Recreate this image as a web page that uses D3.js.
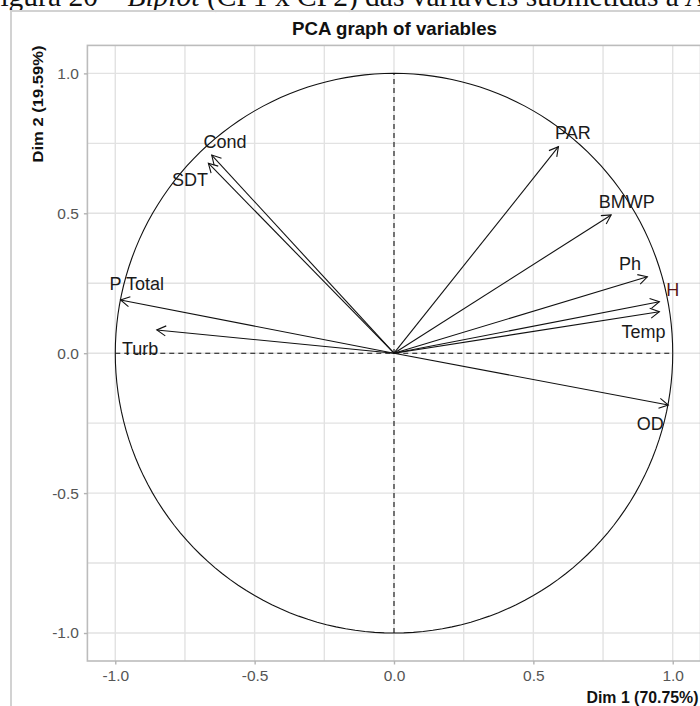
<!DOCTYPE html>
<html>
<head>
<meta charset="utf-8">
<script src="https://cdn.jsdelivr.net/npm/d3@7"></script>
<style>
  body { margin: 0; background: #fff; }
  svg { display: block; }
</style>
</head>
<body>
<svg id="mainsvg" width="700" height="706"></svg>
<script>
// data
const variables = ['PAR', 'BMWP', 'Ph', 'H', 'Temp', 'OD', 'Cond', 'SDT', 'P Total', 'Turb'];
const dim1 = [0.590, 0.779, 0.909, 0.952, 0.952, 0.984, -0.654, -0.666, -0.981, -0.851];
const dim2 = [0.738, 0.494, 0.273, 0.184, 0.148, -0.185, 0.708, 0.679, 0.190, 0.083];
// where the labels sit (in dim units)
const labelDim1 = [0.642, 0.835, 0.847, 1.0, 0.895, 0.919, -0.606, -0.732, -0.923, -0.911];
const labelDim2 = [0.787, 0.541, 0.321, 0.226, 0.077, -0.251, 0.756, 0.619, 0.250, 0.018];
const majorTicks = [-1.0, -0.5, 0.0, 0.5, 1.0];
const minorTicks = [-0.75, -0.25, 0.25, 0.75];
const xTitle = 'Dim 1 (70.75%)';
const yTitle = 'Dim 2 (19.59%)';
const chartTitle = 'PCA graph of variables';

const svg = d3.select('#mainsvg');
const font = "'Liberation Sans', Arial, sans-serif";

// figure caption cut at the top of the screenshot
const cap = svg.append('text')
    .attr('x', -16).attr('y', 6)
    .style('font-family', "'Liberation Serif', 'Times New Roman', serif")
    .style('font-size', '29.5px')
    .attr('fill', '#111');
cap.append('tspan').text('Figura 20 – ');
cap.append('tspan').style('font-style', 'italic').text('Biplot');
cap.append('tspan').text(' (CP1 x CP2) das variáveis submetidas à Análise');

// screenshot frame
svg.append('rect')
    .attr('x', 11).attr('y', 11)
    .attr('width', 720).attr('height', 720)
    .attr('fill', 'none')
    .attr('stroke', '#d2d2d2')
    .attr('stroke-width', 2);

const x = d3.scaleLinear().domain([-1.1, 1.1]).range([87.4, 700.6]);
const y = d3.scaleLinear().domain([-1.1, 1.1]).range([661, 45.4]);

const panel = svg.append('g');

// grid
const gridColor = '#e2e2e2';
panel.selectAll('.vgrid')
    .data(majorTicks.concat(minorTicks))
    .join('line')
    .attr('x1', d => x(d)).attr('x2', d => x(d))
    .attr('y1', y.range()[0]).attr('y2', y.range()[1])
    .attr('stroke', gridColor).attr('stroke-width', 1.4);
panel.selectAll('.hgrid')
    .data(majorTicks.concat(minorTicks))
    .join('line')
    .attr('y1', d => y(d)).attr('y2', d => y(d))
    .attr('x1', x.range()[0]).attr('x2', x.range()[1])
    .attr('stroke', gridColor).attr('stroke-width', 1.4);

// panel border
panel.append('rect')
    .attr('x', x.range()[0]).attr('y', y.range()[1])
    .attr('width', x.range()[1] - x.range()[0])
    .attr('height', y.range()[0] - y.range()[1])
    .attr('fill', 'none')
    .attr('stroke', '#bcbcbc')
    .attr('stroke-width', 1.6);

// axes
const xAxis = svg.append('g')
    .attr('transform', `translate(0, ${y.range()[0]})`)
    .call(d3.axisBottom(x).tickValues(majorTicks).tickFormat(d3.format('.1f')).tickSizeInner(3.5).tickSizeOuter(0).tickPadding(5));
const yAxis = svg.append('g')
    .attr('transform', `translate(${x.range()[0]}, 0)`)
    .call(d3.axisLeft(y).tickValues(majorTicks).tickFormat(d3.format('.1f')).tickSizeInner(3.5).tickSizeOuter(0).tickPadding(5));
[xAxis, yAxis].forEach(a => {
    a.select('.domain').remove();
    a.selectAll('line').attr('stroke', '#b3b3b3').attr('stroke-width', 1.4);
    a.selectAll('text')
        .attr('fill', '#555')
        .style('font-family', font)
        .style('font-size', '15.5px');
});
xAxis.selectAll('text').text(d => d3.format('.1f')(d).replace('−', '-'));
yAxis.selectAll('text').text(d => d3.format('.1f')(d).replace('−', '-'));

// unit circle
const angles = d3.range(0, 361, 2).map(a => a * Math.PI / 180);
panel.append('path')
    .attr('d', d3.line().x(a => x(Math.cos(a))).y(a => y(Math.sin(a)))(angles))
    .attr('fill', 'none')
    .attr('stroke', '#111')
    .attr('stroke-width', 1.1);

// dashed cross lines
panel.append('line')
    .attr('x1', x(-1)).attr('x2', x(1)).attr('y1', y(0)).attr('y2', y(0))
    .attr('stroke', '#111').attr('stroke-width', 1.1).attr('stroke-dasharray', '5,4');
panel.append('line')
    .attr('x1', x(0)).attr('x2', x(0)).attr('y1', y(-1)).attr('y2', y(1))
    .attr('stroke', '#111').attr('stroke-width', 1.1).attr('stroke-dasharray', '5,4');

// arrow marker
svg.append('defs').append('marker')
    .attr('id', 'arrowhead')
    .attr('viewBox', '-12 -7 14 14')
    .attr('refX', 0).attr('refY', 0)
    .attr('markerWidth', 14).attr('markerHeight', 14)
    .attr('markerUnits', 'userSpaceOnUse')
    .attr('orient', 'auto')
    .append('path')
    .attr('d', 'M-9,-5L0,0L-9,5')
    .attr('fill', 'none')
    .attr('stroke', '#111')
    .attr('stroke-width', 1.1);

panel.selectAll('.arrow')
    .data(variables)
    .join('line')
    .attr('class', 'arrow')
    .attr('x1', x(0)).attr('y1', y(0))
    .attr('x2', (d, i) => x(dim1[i]))
    .attr('y2', (d, i) => y(dim2[i]))
    .attr('stroke', '#111')
    .attr('stroke-width', 1.1)
    .attr('marker-end', 'url(#arrowhead)');

panel.selectAll('.varlabel')
    .data(variables)
    .join('text')
    .attr('class', 'varlabel')
    .attr('x', (d, i) => x(labelDim1[i]))
    .attr('y', (d, i) => y(labelDim2[i]))
    .attr('dy', '0.36em')
    .attr('text-anchor', 'middle')
    .style('font-family', font)
    .style('font-size', '18px')
    .attr('fill', d => d === 'H' ? '#5a1414' : '#1a1a1a')
    .text(d => d);

// titles
svg.append('text')
    .attr('x', 394.5).attr('y', 35)
    .attr('text-anchor', 'middle')
    .attr('textLength', 205).attr('lengthAdjust', 'spacingAndGlyphs')
    .style('font-family', font).style('font-weight', 'bold').style('font-size', '19px')
    .attr('fill', '#111')
    .text(chartTitle);

svg.append('text')
    .attr('x', 698.5).attr('y', 703)
    .attr('text-anchor', 'end')
    .attr('textLength', 112).attr('lengthAdjust', 'spacingAndGlyphs')
    .style('font-family', font).style('font-weight', 'bold').style('font-size', '16px')
    .attr('fill', '#111')
    .text(xTitle);

svg.append('text')
    .attr('transform', 'translate(42.5, 45.5) rotate(-90)')
    .attr('text-anchor', 'end')
    .attr('textLength', 117).attr('lengthAdjust', 'spacingAndGlyphs')
    .style('font-family', font).style('font-weight', 'bold').style('font-size', '15px')
    .attr('fill', '#111')
    .text(yTitle);
</script>
</body>
</html>
